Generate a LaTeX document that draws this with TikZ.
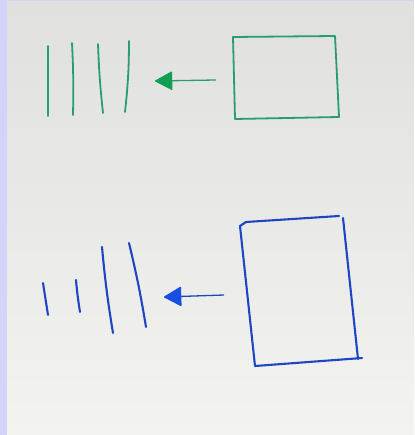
\documentclass[tikz,border=0pt]{standalone}
\usetikzlibrary{arrows.meta}
\definecolor{lav}{RGB}{212,212,250}
\definecolor{papertop}{RGB}{224,225,223}
\definecolor{papermid}{RGB}{233,234,231}
\definecolor{paperbot}{RGB}{243,243,240}
\definecolor{gline}{RGB}{40,156,116}
\definecolor{ghead}{RGB}{18,158,84}
\definecolor{bline}{RGB}{30,70,196}
\definecolor{bhead}{RGB}{24,78,226}
\tikzset{
  gpen/.style={draw=gline, line width=1.8pt, line cap=round, line join=round},
  bpen/.style={draw=bline, line width=2.1pt, line cap=round, line join=round},
  garrow/.style={draw=gline, line width=1.3pt, -{Triangle[length=18pt,width=19pt,color=ghead,fill=ghead,round]}},
  barrow/.style={draw=bline, line width=1.3pt, -{Triangle[length=18pt,width=20pt,color=bhead,fill=bhead,round]}}
}
\begin{document}
\begin{tikzpicture}[x=1pt,y=-1pt]
\useasboundingbox (0,0) rectangle (414,435);
% background and paper
\fill[lav] (0,0) rectangle (414,435);
\shade[top color=papertop, bottom color=paperbot, middle color=papermid] (7,2) rectangle (414,435);
% ---------- green (top) ----------
\coordinate (g1) at (233,37);
\coordinate (g2) at (335,36);
\coordinate (g3) at (339,117);
\coordinate (g4) at (235,119);
\draw[gpen] (g1) -- (g2) -- (g3) -- (g4) -- cycle;
\coordinate (gfrom) at (216,80);
\coordinate (gto) at (155,81);
\draw[garrow] (gfrom) -- (gto);
\coordinate (ga1) at (48,46);  \coordinate (gb1) at (48,116);
\coordinate (ga2) at (72,43);  \coordinate (gb2) at (73,115);
\coordinate (ga3) at (98,44);  \coordinate (gb3) at (103,113);
\coordinate (ga4) at (129,41); \coordinate (gb4) at (125,112);
\draw[gpen] (ga1) -- (gb1);
\draw[gpen] (ga2) to[bend left=2] (gb2);
\draw[gpen] (ga3) to[bend right=2] (gb3);
\draw[gpen] (ga4) to[bend left=3] (gb4);
% ---------- blue (bottom) ----------
\coordinate (b1) at (240,226);
\coordinate (b1a) at (246,222);
\coordinate (b2) at (339,216);
\coordinate (b2a) at (343,218);
\coordinate (b3) at (358,359);
\coordinate (b3a) at (362,358);
\coordinate (b4) at (255,366);
\draw[bpen] (b1) -- (b1a) -- (b2);
\draw[bpen] (b2a) -- (b3);
\draw[bpen] (b1) -- (b4) -- (b3a);
\coordinate (bfrom) at (224,295);
\coordinate (bto) at (164,297);
\draw[barrow] (bfrom) -- (bto);
\coordinate (ba1) at (43,283);  \coordinate (bb1) at (48,315);
\coordinate (ba2) at (76,280);  \coordinate (bb2) at (80,312);
\coordinate (ba3) at (102,247); \coordinate (bb3) at (113,333);
\coordinate (ba4) at (129,243); \coordinate (bb4) at (146,327);
\draw[bpen] (ba1) -- (bb1);
\draw[bpen] (ba2) to[bend right=2] (bb2);
\draw[bpen] (ba3) to[bend right=2] (bb3);
\draw[bpen] (ba4) to[bend left=2] (bb4);
\end{tikzpicture}
\end{document}
